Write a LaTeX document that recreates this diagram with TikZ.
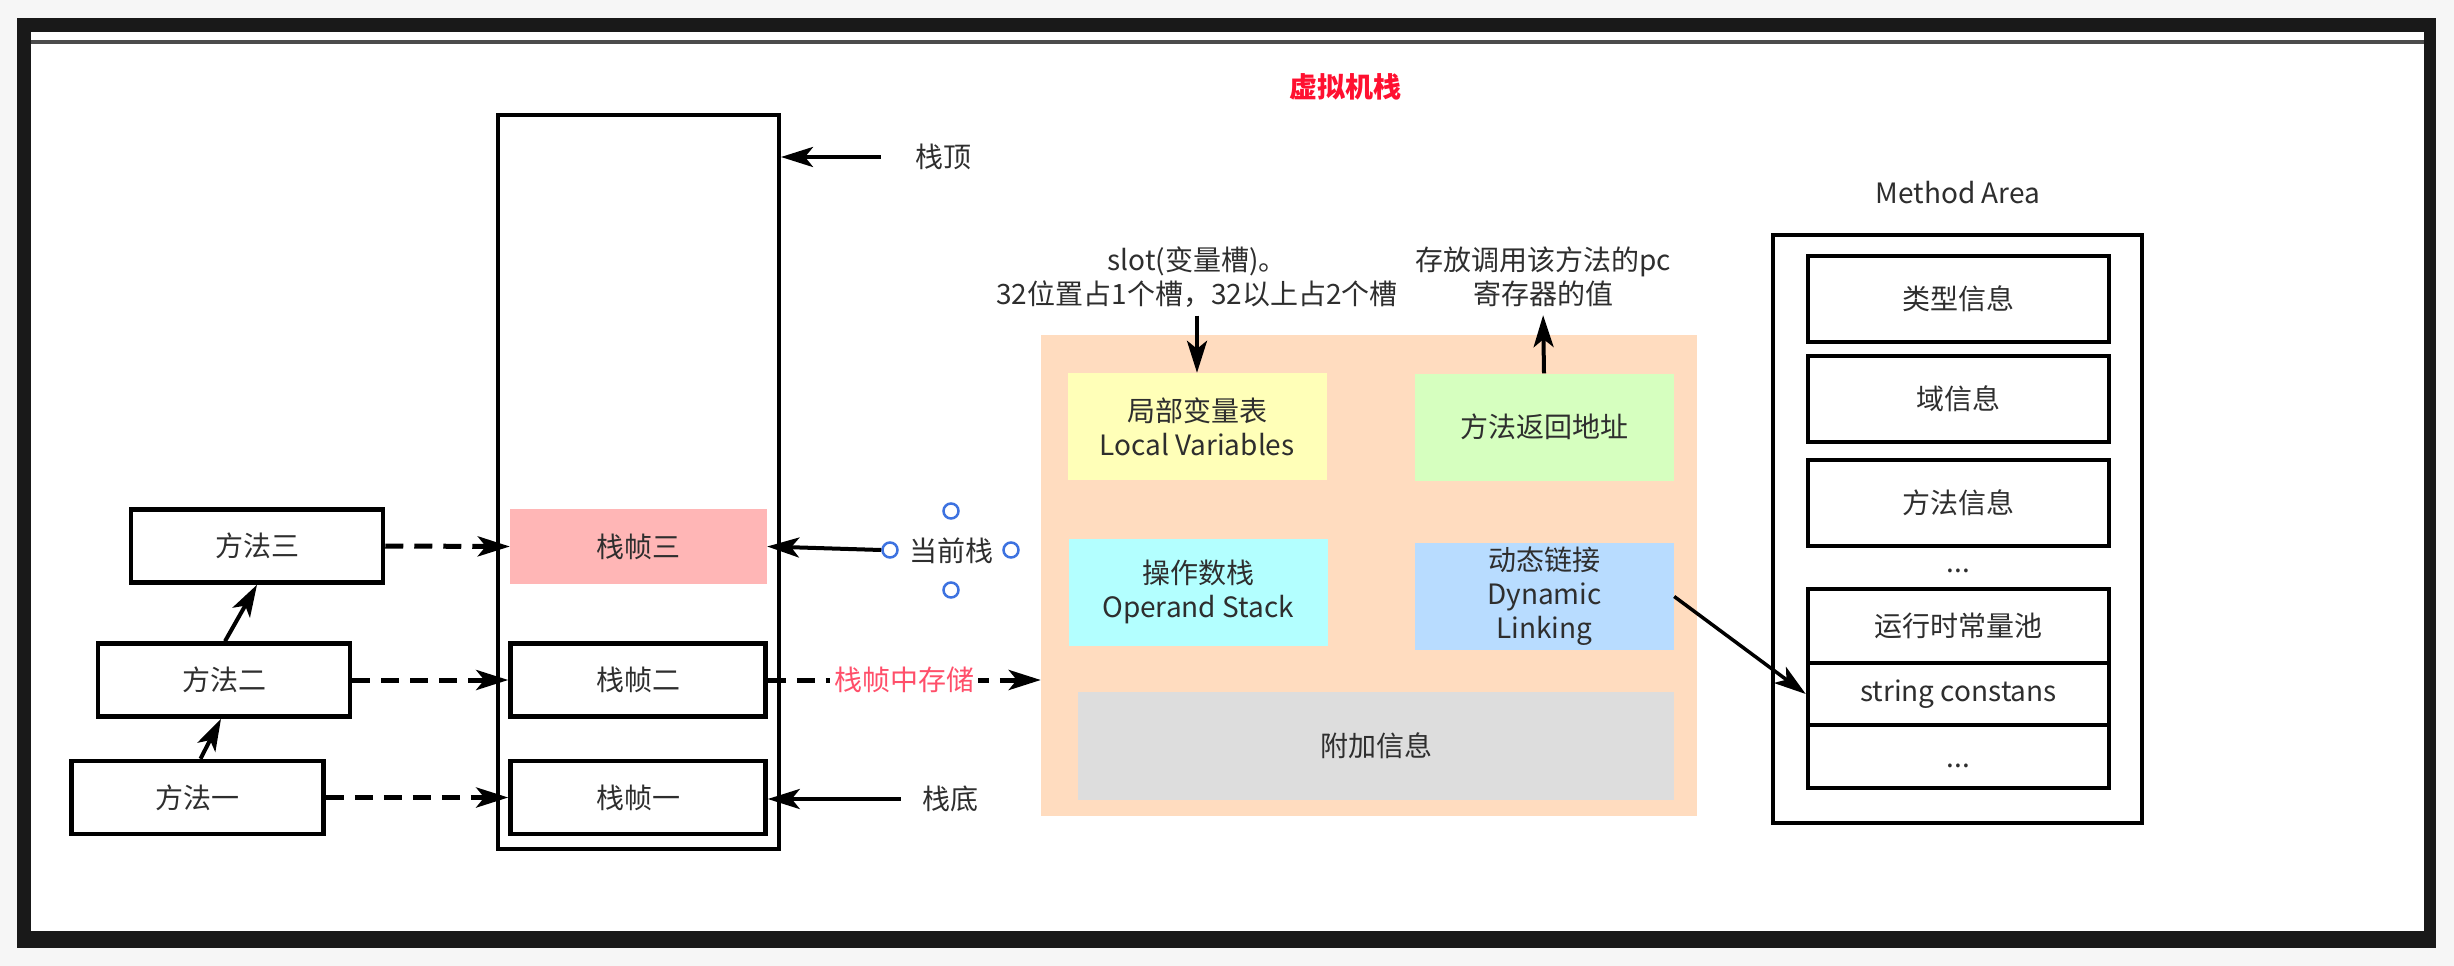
\documentclass[tikz,border=0pt]{standalone}
\usepackage{fontspec}
\setmainfont{Noto Sans CJK SC}
\usetikzlibrary{arrows.meta,positioning}
\definecolor{txt}{HTML}{2E2E2E}
\definecolor{titlered}{HTML}{FF1030}
\definecolor{storered}{HTML}{FF4F6A}
\definecolor{framepink}{HTML}{FFB6B6}
\definecolor{framebg}{HTML}{FFDCBF}
\definecolor{lvyellow}{HTML}{FFFFB8}
\definecolor{ragreen}{HTML}{D6FFBF}
\definecolor{oscyan}{HTML}{B3FFFF}
\definecolor{dlblue}{HTML}{B8DCFF}
\definecolor{aigray}{HTML}{DDDDDD}
\definecolor{hblue}{HTML}{3D72E0}

\begin{document}
\begin{tikzpicture}[x=1pt,y=-1pt,
    every node/.style={font=\fontsize{28pt}{34pt}\selectfont, text=txt, inner sep=0pt, align=center},
    box/.style={draw, line width=4.5pt, minimum width=252pt, minimum height=73pt},
    area/.style={draw, line width=4pt},
    part/.style={minimum width=259pt, minimum height=107pt},
    mabox/.style={draw, line width=4.5pt, minimum width=301pt},
    handle/.style={circle, draw=hblue, fill=white, line width=2.5pt, minimum size=15pt},
    arr/.style={line width=4pt, -{Stealth[length=32pt,width=20pt,inset=8pt]}},
    dasharr/.style={arr, line width=5pt, dash pattern=on 18pt off 11pt}]
    \useasboundingbox (0,0) rectangle (2454,966);
    \fill[gray!7] (0,0) rectangle (2454,966);
    \fill[black!90] (17,18) rectangle (2436,948);
    \fill[white] (31,32) rectangle (2424,931);
    \draw[black!70, line width=4pt] (31,42) -- (2424,42);

    \node[font=\bfseries\fontsize{28pt}{34pt}\selectfont, text=titlered] (title) at (1345,87) {虚拟机栈};

    \node[area, minimum width=281pt, minimum height=734pt] (stk) at (638.5,482) {};
    \node[fill=framepink, minimum width=257pt, minimum height=75pt] (f3) at (638.5,546.5) {栈帧三};
    \node[box, minimum width=255pt] (f2) at (638,680) {栈帧二};
    \node[box, minimum width=255pt] (f1) at (638,797.5) {栈帧一};

    \node[box] (m3) at (257,546) {方法三};
    \node[box] (m2) at (224,680) {方法二};
    \node[box] (m1) at (197.5,797.5) {方法一};

    \node (top) at (943,157) {栈顶};
    \node (cur) at (951,551) {当前栈};
    \node (bot) at (950,799) {栈底};
    \node[handle] (hn) at (951,511) {};
    \node[handle] (hw) at (890,550) {};
    \node[handle] (he) at (1011,550) {};
    \node[handle] (hs) at (951,590) {};

    \draw[arr, shorten <=34pt] (top.west) -- (top.west -| stk.east);
    \draw[arr] (hw.west) -- (f3.east);
    \draw[arr, shorten <=21pt] (bot.west) -- (bot.west -| f1.east);
    \draw[arr] ([xshift=3pt]m1.north) -- ([xshift=-3pt]m2.south);
    \draw[arr] ([xshift=1pt]m2.north) -- (m3.south);
    \draw[dasharr] (m3.east) -- (f3.west);
    \draw[dasharr] (m2.east) -- (f2.west);
    \draw[dasharr] (m1.east) -- (f1.west);

    \node[fill=framebg, minimum width=656pt, minimum height=481pt] (frm) at (1369,575.5) {};
    \node[part, fill=lvyellow] (lv) at (1197,426.5) {局部变量表\\Local Variables};
    \node[part, fill=ragreen] (ra) at (1544,427) {方法返回地址};
    \node[part, fill=oscyan] (os) at (1198,592) {操作数栈\\Operand Stack};
    \node[part, fill=dlblue] (dl) at (1544.5,596.5) {动态链接\\Dynamic\\Linking};
    \node[fill=aigray, minimum width=596pt, minimum height=108pt] (ai) at (1376,746) {附加信息};

    \draw[dasharr] (f2.east) -- (f2.east -| frm.west)
        node[midway, fill=white, inner xsep=4pt, text=storered] {栈帧中存储};

    \node (slot) at (1197,277) {slot(变量槽)。\\32位置占1个槽，32以上占2个槽};
    \node (pc) at (1543,277) {存放调用该方法的pc\\寄存器的值};
    \draw[arr, shorten <=8pt] (slot.south) -- (lv.north);
    \draw[arr, shorten >=8pt] (ra.north) -- (pc.south);

    \node (matitle) at (1958,193) {Method Area};
    \node[area, minimum width=369pt, minimum height=588pt] (ma) at (1957.5,529) {};
    \node[mabox, minimum height=86pt] (type) at (1958.5,299) {类型信息};
    \node[mabox, minimum height=86pt] (field) at (1958.5,399) {域信息};
    \node[mabox, minimum height=86pt] (meth) at (1958.5,503) {方法信息};
    \node (gap) at (1958.5,571) {...};
    \node[mabox, minimum height=74pt] (rcp) at (1958.5,626) {运行时常量池};
    \node[mabox, minimum height=62pt] (sc) at (1958.5,694) {string constans};
    \node[mabox, minimum height=63pt] (more) at (1958.5,756.5) {\vphantom{类}...};
    \draw[arr, line width=3.5pt] (dl.east) -- (sc.west);
\end{tikzpicture}
\end{document}
